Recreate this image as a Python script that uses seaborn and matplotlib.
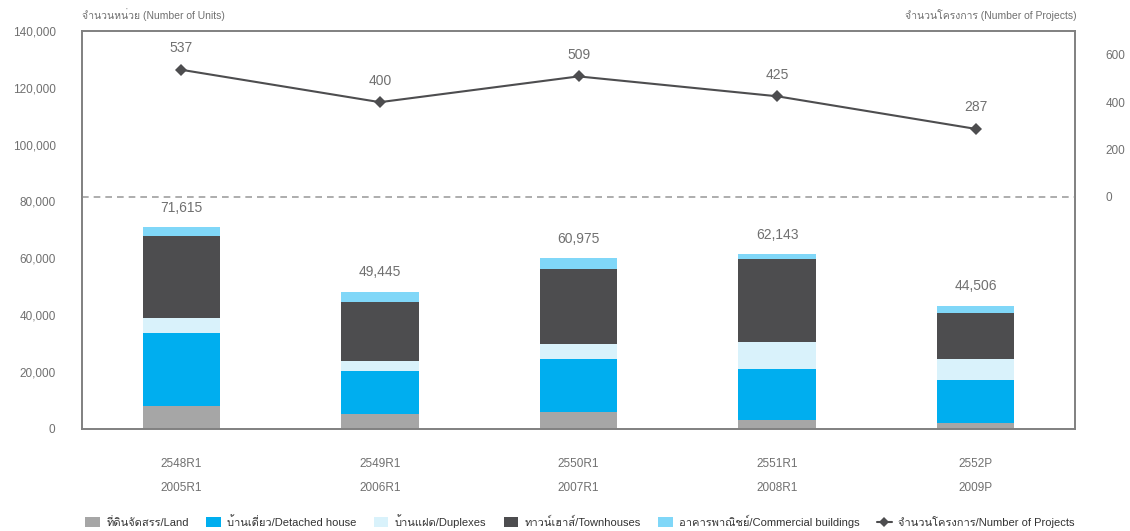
import numpy as np
import pandas as pd
import matplotlib
matplotlib.use("Agg")
import matplotlib.pyplot as plt
import seaborn as sns
from matplotlib import font_manager
from matplotlib.ft2font import FT2Font
from matplotlib.patches import Patch
from matplotlib.lines import Line2D

# ---------------- data ----------------
periods_th = ["2548R1", "2549R1", "2550R1", "2551R1", "2552P"]
periods_en = ["2005R1", "2006R1", "2007R1", "2008R1", "2009P"]
land = [7950, 5100, 5850, 3000, 1900]
detached = [25800, 15200, 18700, 18000, 15200]
duplexes = [5300, 3550, 5300, 9550, 7450]
townhouses = [28600, 20850, 26500, 29000, 16250]
commercial = [3300, 3550, 3550, 1850, 2500]
total_labels = ["71,615", "49,445", "60,975", "62,143", "44,506"]
projects = [537, 400, 509, 425, 287]

series_names = ["ที่ดินจัดสรร/Land", "บ้านเดี่ยว/Detached house", "บ้านแฝด/Duplexes",
                "ทาวน์เฮาส์/Townhouses", "อาคารพาณิชย์/Commercial buildings"]
line_name = "จำนวนโครงการ/Number of Projects"
left_title = "จำนวนหน่วย (Number of Units)"
right_title = "จำนวนโครงการ (Number of Projects)"
colors = ["#a6a6a6", "#00aeef", "#d9f2fb", "#4d4d4f", "#80d7f8"]
line_color = "#4d4d4f"
text_color = "#707070"

# ---------------- fonts ----------------
def find_thai_font():
    for f in font_manager.fontManager.ttflist:
        try:
            cm = FT2Font(f.fname).get_charmap()
        except Exception:
            continue
        if 0x0E08 in cm and 0x0E33 in cm and 0x0E49 in cm:
            return f.name
    return None

sns.set_theme(style="white")
thai = find_thai_font()
fams = ["Liberation Sans"]
if thai:
    fams.append(thai)
fams.append("DejaVu Sans")
plt.rcParams["font.family"] = fams

# ---------------- figure ----------------
W, H = 1130, 531
fig = plt.figure(figsize=(W / 100, H / 100), dpi=100)
ax = fig.add_axes([82 / W, 1 - 428.5 / H, (1075 - 82) / W, (428.5 - 31) / H])

layers = [land, detached, duplexes, townhouses, commercial]
cum = np.cumsum(np.array(layers), axis=0)
x_labels = [f"{a}\n{b}" for a, b in zip(periods_th, periods_en)]

for i in range(len(layers) - 1, -1, -1):
    df = pd.DataFrame({"period": x_labels, "value": cum[i]})
    sns.barplot(data=df, x="period", y="value", color=colors[i], saturation=1,
                width=0.39, ax=ax, linewidth=0)

ax.set_xlim(-0.5, len(periods_th) - 0.5)
ax.set_ylim(0, 140000)
ax.set_yticks(np.arange(0, 140001, 20000))
ax.set_yticklabels([f"{v:,}" for v in range(0, 140001, 20000)])
ax.set_xlabel("")
ax.set_ylabel("")
ax.tick_params(axis="y", length=0, pad=19, labelsize=8.5, labelcolor=text_color)
ax.tick_params(axis="x", length=0, pad=21.5, labelsize=8.5, labelcolor=text_color)
for lbl in ax.get_xticklabels():
    lbl.set_linespacing(2.3)

for i, top in enumerate(cum[-1]):
    ax.annotate(total_labels[i], (i, top), xytext=(0, 9), textcoords="offset points",
                ha="center", va="bottom", fontsize=10, color=text_color)

for sp in ax.spines.values():
    sp.set_color("#808080")
    sp.set_linewidth(1.2)

ax2 = ax.twinx()
sns.lineplot(x=np.arange(len(projects)), y=projects, ax=ax2, color=line_color,
             marker="D", markersize=6, linewidth=1.5, markeredgewidth=0)
ax2.set_ylim(-980, 701)
ax2.set_yticks([0, 200, 400, 600])
ax2.tick_params(axis="y", length=0, pad=22, labelsize=8.5, labelcolor=text_color)
ax2.axhline(0, color="#a0a0a0", linestyle=(0, (4, 3)), linewidth=1.2)
ax2.set_xlim(-0.5, len(periods_th) - 0.5)
for i, v in enumerate(projects):
    ax2.annotate(str(v), (i, v), xytext=(0, 10.5), textcoords="offset points",
                 ha="center", va="bottom", fontsize=10, color=text_color)
for sp in ax2.spines.values():
    sp.set_color("#808080")
    sp.set_linewidth(1.2)

fig.text(82 / W, 1 - 15 / H, left_title, ha="left", va="center", fontsize=7.5, color=text_color)
fig.text(1077 / W, 1 - 15 / H, right_title, ha="right", va="center", fontsize=7.5, color=text_color)

handles = [Patch(facecolor=c, edgecolor="none") for c in colors]
handles.append(Line2D([0], [0], color=line_color, marker="D", markersize=5, linewidth=1.5,
                      markeredgewidth=0))
leg = fig.legend(handles, series_names + [line_name], loc="center",
                 bbox_to_anchor=(580 / W, 1 - 521 / H), ncol=6, frameon=False, fontsize=8,
                 handlelength=1.3, handleheight=0.9, columnspacing=1.55, handletextpad=0.6,
                 labelcolor="#333333")

fig.savefig("out.png", dpi=100)
